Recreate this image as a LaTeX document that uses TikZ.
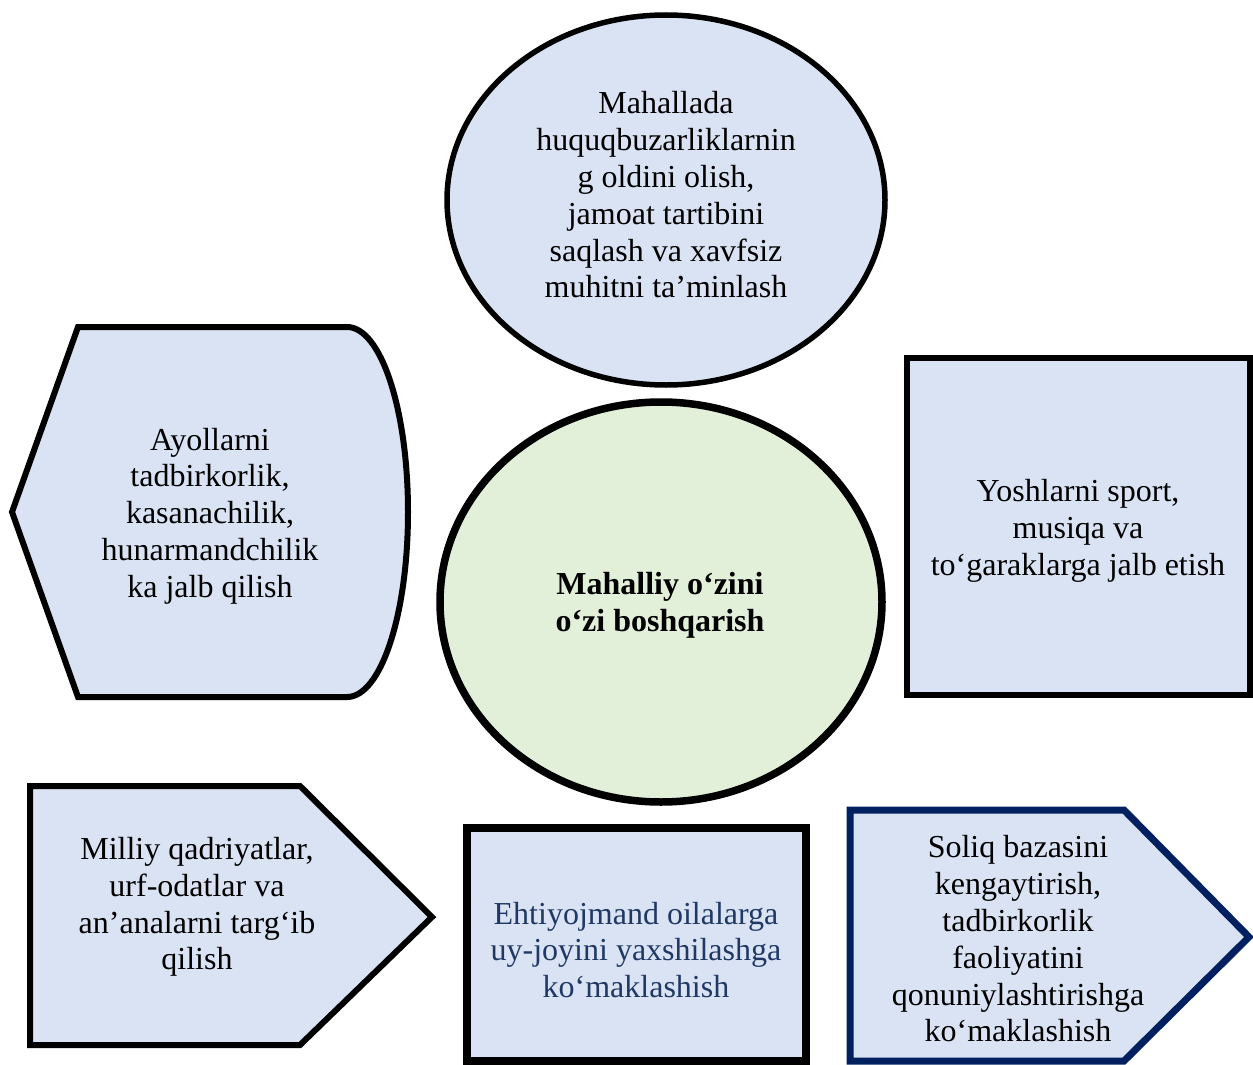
\documentclass[tikz,border=0pt]{standalone}
\usepackage{fontspec}
\setmainfont{Liberation Serif}
\usetikzlibrary{shapes.geometric}
\definecolor{boxblue}{HTML}{DAE3F3}
\definecolor{circgreen}{HTML}{E2F0D9}
\definecolor{navyline}{HTML}{002060}
\definecolor{textnavy}{HTML}{1F3864}
\begin{document}
\begin{tikzpicture}[x=1pt,y=-1pt,
  txt/.style={font=\fontsize{32}{36.8}\selectfont, align=center, inner sep=0pt},
  shapefill/.style={fill=boxblue, draw=black, line join=miter}]
\useasboundingbox (0,0) rectangle (1253,1065);
% top ellipse
\node[ellipse, shapefill, line width=5.5pt, minimum width=438pt, minimum height=370pt] (topell) at (666,200) {};
\node[txt] (toptext) at (666,195) {Mahallada\\huquqbuzarliklarnin\\g oldini olish,\\jamoat tartibini\\saqlash va xavfsiz\\muhitni ta’minlash};
% center circle
\node[ellipse, fill=circgreen, draw=black, line width=7.5pt, minimum width=442pt, minimum height=400pt] (center) at (661,602) {};
\node[txt, font=\fontsize{32}{36.8}\selectfont\bfseries] (centertext) at (660,605) {Mahalliy o‘zini\\o‘zi boshqarish};
% left display shape
\draw[shapefill, line width=6pt] (78,327) -- (347,327)
  .. controls (381,327) and (408,410) .. (408,512)
  .. controls (408,614) and (381,697) .. (347,697)
  -- (78,697) -- (12,512) -- cycle;
\node[txt] (lefttext) at (210,516) {Ayollarni\\tadbirkorlik,\\kasanachilik,\\hunarmandchilik\\ka jalb qilish};
% right rectangle
\draw[shapefill, line width=6pt] (907,358) rectangle (1250,695);
\node[txt] (righttext) at (1078,531) {Yoshlarni sport,\\musiqa va\\to‘garaklarga jalb etish};
% bottom-left pentagon
\draw[shapefill, line width=6pt] (30,786) -- (300,786) -- (432,917) -- (300,1045) -- (30,1045) -- cycle;
\node[txt] (bltext) at (197,907) {Milliy qadriyatlar,\\urf-odatlar va\\an’analarni targ‘ib\\qilish};
% bottom-middle rectangle
\draw[shapefill, line width=8pt] (467,828) rectangle (806,1061);
\node[txt, text=textnavy] (bmtext) at (636,950) {Ehtiyojmand oilalarga\\uy-joyini yaxshilashga\\ko‘maklashish};
% bottom-right pentagon
\draw[fill=boxblue, draw=navyline, line join=miter, line width=7pt] (850,810) -- (1124,810) -- (1249,937) -- (1124,1061) -- (850,1061) -- cycle;
\node[txt] (brtext) at (1018,939) {Soliq bazasini\\kengaytirish,\\tadbirkorlik\\faoliyatini\\qonuniylashtirishga\\ko‘maklashish};
\end{tikzpicture}
\end{document}
